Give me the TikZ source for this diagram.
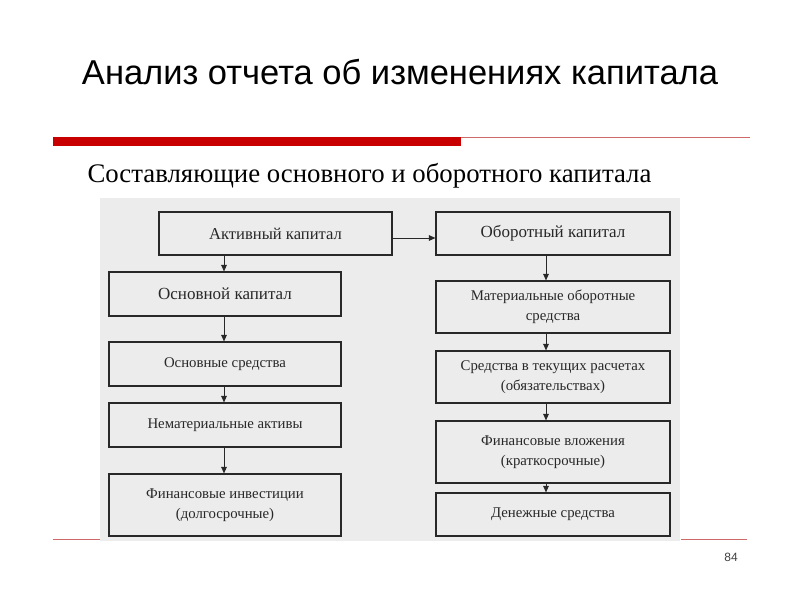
\documentclass[tikz,border=0pt]{standalone}
\usepackage{fontspec}
\setmainfont{Liberation Serif}
\newfontfamily\titlefont{Liberation Sans}
\usetikzlibrary{arrows.meta}
\definecolor{redbar}{RGB}{200,0,0}
\definecolor{redthin}{RGB}{205,105,105}
\definecolor{bggray}{RGB}{236,236,236}
\definecolor{ink}{RGB}{40,40,40}
\tikzset{
  box/.style={draw=ink, line width=1.1pt, inner sep=0pt, align=center, text=ink,
    font=\fontsize{14.8}{20}\selectfont},
  arr/.style={draw=ink, line width=1pt, -{Triangle[length=6.5pt,width=5.5pt]}},
  thinred/.style={draw=redthin, line width=1.1pt},
}
\begin{document}
\begin{tikzpicture}[x=1pt,y=-1pt]
\useasboundingbox (0,0) rectangle (800,600);
\fill[white] (0,0) rectangle (800,600);
% title
\node[font=\titlefont\fontsize{34.5}{40}\selectfont, text=black] (title) at (400,72) {Анализ отчета об изменениях капитала};
% red lines
\fill[redbar] (53,137) rectangle (461,146);
\draw[thinred] (461,137.5) -- (750,137.5);
% subtitle
\node[font=\fontsize{26.8}{30}\selectfont, anchor=west, text=black] (sub) at (84,176) {Составляющие основного и оборотного капитала};
% diagram background
\fill[bggray] (100,198) rectangle (680,541);
\draw[thinred] (53,539.5) -- (100,539.5);
\draw[thinred] (681,539.5) -- (747,539.5);
\node[font=\titlefont\fontsize{12}{14}\selectfont, text=black!75] (pg) at (731,557) {84};
% boxes left
\node[box, minimum width=233pt, minimum height=43pt, font=\fontsize{16.6}{20}\selectfont] (akt) at (275.5,233.5) {Активный капитал};
\node[box, minimum width=232pt, minimum height=44pt, font=\fontsize{17}{20}\selectfont] (osk) at (225,294) {Основной капитал};
\node[box, minimum width=232pt, minimum height=44pt] (oss) at (225,364) {Основные средства};
\node[box, minimum width=232pt, minimum height=44pt] (nem) at (225,425) {Нематериальные активы};
\node[box, minimum width=232pt, minimum height=62pt] (fin) at (225,505) {Финансовые инвестиции\\(долгосрочные)};
% boxes right
\node[box, minimum width=234pt, minimum height=43pt, font=\fontsize{17}{20}\selectfont] (obk) at (553,233.5) {Оборотный капитал};
\node[box, minimum width=234pt, minimum height=52pt] (mat) at (553,307) {Материальные оборотные\\средства};
\node[box, minimum width=234pt, minimum height=52pt] (sre) at (553,377) {Средства в текущих расчетах\\(обязательствах)};
\node[box, minimum width=234pt, minimum height=62pt] (fvl) at (553,452) {Финансовые вложения\\(краткосрочные)};
\node[box, minimum width=234pt, minimum height=43pt] (den) at (553,514.5) {Денежные средства};
% arrows
\coordinate (lx) at (224,0);
\coordinate (rx) at (546,0);
\coordinate (hy) at (0,238);
\draw[arr] (akt.east |- hy) -- (obk.west |- hy);
\draw[arr] (akt.south -| lx) -- (osk.north -| lx);
\draw[arr] (osk.south -| lx) -- (oss.north -| lx);
\draw[arr] (oss.south -| lx) -- (nem.north -| lx);
\draw[arr] (nem.south -| lx) -- (fin.north -| lx);
\draw[arr] (obk.south -| rx) -- (mat.north -| rx);
\draw[arr] (mat.south -| rx) -- (sre.north -| rx);
\draw[arr] (sre.south -| rx) -- (fvl.north -| rx);
\draw[arr] (fvl.south -| rx) -- (den.north -| rx);
\end{tikzpicture}
\end{document}
